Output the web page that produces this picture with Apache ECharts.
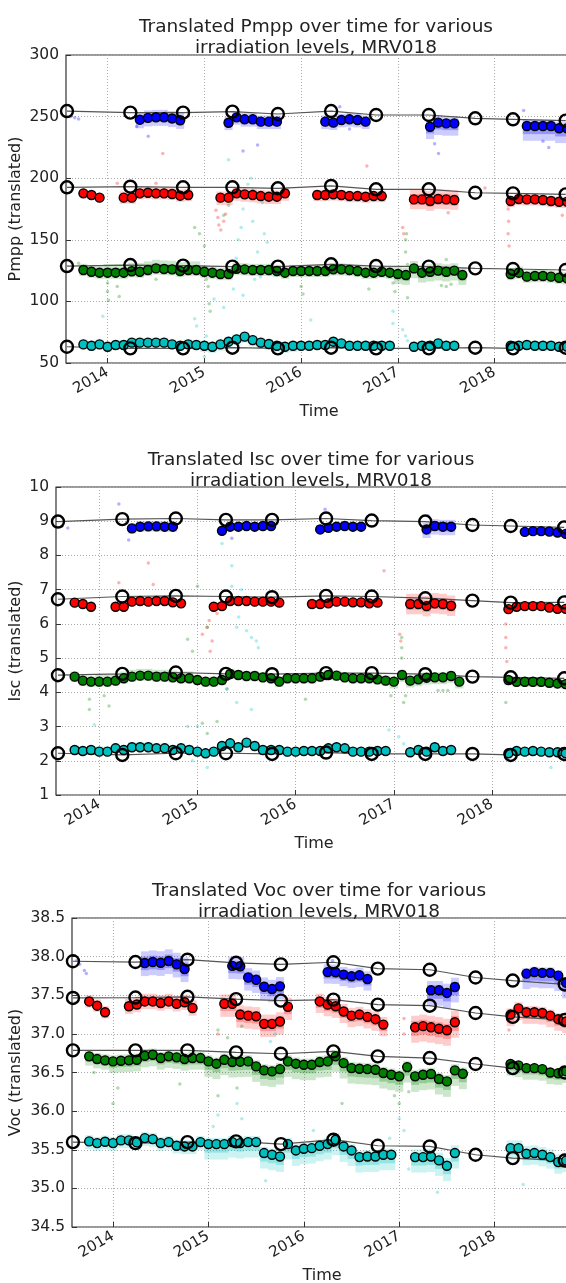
<!DOCTYPE html>
<html><head><meta charset="utf-8">
<script src="https://cdn.jsdelivr.net/npm/echarts@6/dist/echarts.min.js"></script>
<style>html,body{margin:0;padding:0;background:#fff}#c{width:566px;height:1283px}</style>
</head><body><div id="c"></div>
<script>
// ---------------- DATA ----------------
const yearTicks = [2014, 2015, 2016, 2017, 2018];
const refDates = [2013.58, 2014.235, 2014.78, 2015.29, 2015.76, 2016.31, 2016.775, 2017.32, 2017.80, 2018.19, 2018.735];

const blueMonths = ['2014-05','2014-06','2014-07','2014-08','2014-09','2014-10',
  '2015-04','2015-05','2015-06','2015-07','2015-08','2015-09','2015-10',
  '2016-04','2016-05','2016-06','2016-07','2016-08','2016-09',
  '2017-05','2017-06','2017-07','2017-08',
  '2018-05','2018-06','2018-07','2018-08','2018-09','2018-10'];
const redMonths = ['2013-10','2013-11','2013-12',
  '2014-03','2014-04','2014-05','2014-06','2014-07','2014-08','2014-09','2014-10','2014-11',
  '2015-03','2015-04','2015-05','2015-06','2015-07','2015-08','2015-09','2015-10','2015-11',
  '2016-03','2016-04','2016-05','2016-06','2016-07','2016-08','2016-09','2016-10','2016-11',
  '2017-03','2017-04','2017-05','2017-06','2017-07','2017-08',
  '2018-03','2018-04','2018-05','2018-06','2018-07','2018-08','2018-09','2018-10'];
const greenMonths = ['2013-10','2013-11','2013-12',
  '2014-01','2014-02','2014-03','2014-04','2014-05','2014-06','2014-07','2014-08','2014-09','2014-10','2014-11','2014-12',
  '2015-01','2015-02','2015-03','2015-04','2015-05','2015-06','2015-07','2015-08','2015-09','2015-10','2015-11','2015-12',
  '2016-01','2016-02','2016-03','2016-04','2016-05','2016-06','2016-07','2016-08','2016-09','2016-10','2016-11','2016-12',
  '2017-01','2017-02','2017-03','2017-04','2017-05','2017-06','2017-07','2017-08','2017-09',
  '2018-03','2018-04','2018-05','2018-06','2018-07','2018-08','2018-09','2018-10'];
const cyanMonths = ['2013-10','2013-11','2013-12',
  '2014-01','2014-02','2014-03','2014-04','2014-05','2014-06','2014-07','2014-08','2014-09','2014-10','2014-11','2014-12',
  '2015-01','2015-02','2015-03','2015-04','2015-05','2015-06','2015-07','2015-08','2015-09','2015-10','2015-11','2015-12',
  '2016-01','2016-02','2016-03','2016-04','2016-05','2016-06','2016-07','2016-08','2016-09','2016-10','2016-11','2016-12',
  '2017-03','2017-04','2017-05','2017-06','2017-07','2017-08',
  '2018-03','2018-04','2018-05','2018-06','2018-07','2018-08','2018-09','2018-10'];

// Pmpp
const pmppBlue = [247.5,249,249.5,249.5,248.5,247, 245,249.4,247.8,247.8,245.9,245.9,245.9,
  245.9,245.1,247.2,247.8,247.2,245.9, 241.8,245.1,244.5,244.5, 242.4,242.4,242.4,242.4,240.5,240.5];
const pmppRed = [187.7,186.4,184.2, 184.2,184.2,187.7,188.2,187.7,187.7,187.2,185.8,186.4,
  184.2,184.2,187.7,186.9,186.4,185.5,185.0,185.0,187.7, 186.4,186.4,186.9,186.4,185.5,185.5,185.0,185.5,185.5,
  182.8,182.8,181.5,183.1,182.8,182.3, 181.5,183.1,182.8,182.8,182.3,181.5,180.9,180.9];
const pmppGreen = [125.5,124.1,123.3,
  123.3,123.3,123.3,124.5,124.1,125.5,126.8,126.3,126.0,124.7,125.5,125.5,
  124.1,123.3,122.2,122.2,126.5,126.0,125.5,125.5,125.5,124.7,123.3,124.7,
  124.7,124.7,124.7,124.7,126.0,126.0,125.5,124.7,123.3,123.3,124.1,123.3,
  122.2,121.4,126.8,123.3,124.1,125.0,124.1,125.0,121.4,
  122.2,123.3,120.1,120.6,120.6,120.1,119.2,118.7];
const pmppCyan = [65.1,64.0,65.1,
  63.2,64.6,64.6,66.5,66.5,66.5,66.5,66.5,65.1,64.0,65.1,64.6,
  64.0,63.2,65.1,67.3,69.2,71.4,68.6,66.5,65.4,64.0,63.2,64.0,
  64.0,64.0,64.6,64.6,67.3,65.9,64.0,64.0,64.0,64.0,64.0,64.0,
  63.2,64.0,64.0,65.9,64.0,64.0,
  64.0,64.0,64.6,64.0,64.0,64.0,63.2,63.2];
const pmppBlueRef = [254.5,253.2,253.2,254.0,252.1,254.5,251.3,251.3,248.6,247.8,246.7];
const pmppRedRef = [192.6,193.1,192.6,192.6,191.8,193.7,191.0,191.0,188.2,187.7,186.9];
const pmppGreenRef = [128.7,129.5,129.0,128.2,128.2,130.1,128.7,128.2,126.8,126.3,125.5];
const pmppCyanRef = [63.2,61.9,61.9,62.4,61.9,62.4,61.9,61.9,62.4,61.9,62.4];
const pmppBlueSpread = [[2014,7,6],[2015,6,5],[2016,6,5],[2017,10,6],[2018,12,5]];
const pmppRedSpread = [[2013,3,3],[2014,5,5],[2015,6,5],[2016,5,4],[2017,8,8],[2018,5,4]];
const pmppGreenSpread = [[2013,5,5],[2014,5,7],[2015,5,5],[2016,5,5],[2017,8,6],[2018,5,5]];
const pmppCyanSpread = [[2013,4,4],[2014,4,4],[2015,5,4],[2016,4,4],[2017,4,4],[2018,4,4]];
const pmppOutBlue = [[2013.62,250],[2013.66,249],[2013.7,248],[2014.3,242],[2014.42,234],[2015.4,222],[2015.55,227],[2016.4,258],[2017.38,228],[2017.42,220],[2018.5,230],[2018.56,225],[2018.3,255],[2016.5,240],[2014.6,253]];
const pmppOutRed = [[2014.57,220],[2016.68,210],[2015.12,174],[2015.14,168],[2015.15,162],[2015.17,158],[2015.2,165],[2015.22,171],[2018.14,175],[2018.145,165],[2018.14,155],[2018.15,145],[2018.15,185],[2017.05,160],[2017.06,155],[2018.7,170],[2014.1,196],[2017.52,172],[2017.9,192],[2014.5,196]];
const pmppOutGreen = [[2013.7,131],[2014.0,115],[2014.0,108],[2014.01,101],[2014.1,112],[2014.12,104],[2014.9,160],[2014.95,155],[2015.0,145],[2015.02,118],[2015.04,112],[2015.05,98],[2015.06,92],[2015.2,170],[2015.25,178],[2015.5,190],[2016.0,112],[2016.02,106],[2016.7,110],[2016.95,115],[2016.97,108],[2017.08,140],[2017.08,150],[2017.09,155],[2017.1,130],[2017.1,118],[2017.1,103],[2017.5,134],[2017.45,113],[2017.5,112],[2017.55,114],[2014.5,118]];
const pmppOutCyan = [[2013.95,88],[2014.9,86],[2014.92,80],[2015.0,55],[2015.02,72],[2015.1,102],[2015.2,95],[2015.3,110],[2015.33,135],[2015.35,150],[2015.38,160],[2015.4,175],[2015.42,185],[2015.45,195],[2015.48,200],[2015.5,165],[2015.55,140],[2015.58,120],[2015.6,180],[2015.62,155],[2015.65,148],[2015.7,130],[2015.4,105],[2015.52,118],[2016.1,85],[2016.95,82],[2016.95,92],[2017.05,77],[2017.08,72],[2017.1,68],[2015.25,215]];

// Isc
const iscBlue = [8.79,8.84,8.85,8.85,8.84,8.84, 8.72,8.84,8.84,8.86,8.84,8.86,8.86,
  8.76,8.81,8.84,8.86,8.84,8.84, 8.76,8.86,8.84,8.84, 8.69,8.71,8.71,8.70,8.67,8.63];
const iscRed = [6.62,6.58,6.50, 6.50,6.50,6.65,6.67,6.65,6.67,6.67,6.63,6.60,
  6.50,6.52,6.67,6.67,6.67,6.65,6.65,6.65,6.62, 6.58,6.58,6.60,6.65,6.65,6.63,6.63,6.60,6.62,
  6.58,6.58,6.52,6.60,6.58,6.53, 6.43,6.50,6.52,6.52,6.52,6.48,6.44,6.44];
const iscGreen = [4.458,4.341,4.312,
  4.312,4.312,4.341,4.41,4.458,4.487,4.487,4.458,4.458,4.438,4.41,4.41,
  4.36,4.312,4.312,4.36,4.536,4.507,4.477,4.477,4.438,4.41,4.312,4.41,
  4.41,4.41,4.41,4.458,4.507,4.487,4.438,4.41,4.41,4.41,4.38,4.341,
  4.312,4.507,4.341,4.38,4.428,4.438,4.438,4.477,4.312,
  4.36,4.31,4.31,4.31,4.31,4.28,4.26,4.24];
const iscCyan = [2.316,2.287,2.316,
  2.267,2.267,2.364,2.316,2.394,2.394,2.394,2.364,2.364,2.316,2.364,2.316,
  2.267,2.218,2.267,2.433,2.51,2.394,2.53,2.433,2.316,2.316,2.316,2.267,
  2.267,2.287,2.287,2.287,2.364,2.394,2.364,2.267,2.267,2.267,2.287,2.287,
  2.248,2.316,2.267,2.394,2.287,2.316,
  2.218,2.287,2.267,2.287,2.267,2.248,2.248,2.218];
const iscBlueRef = [8.99,9.06,9.08,9.04,9.04,9.08,9.02,8.99,8.89,8.86,8.82];
const iscRedRef = [6.72,6.80,6.82,6.80,6.78,6.82,6.80,6.75,6.68,6.62,6.63];
const iscGreenRef = [4.50,4.54,4.58,4.54,4.53,4.56,4.56,4.53,4.46,4.44,4.41];
const iscCyanRef = [2.22,2.17,2.22,2.22,2.20,2.24,2.20,2.20,2.20,2.17,2.20];
const iscBlueSpread = [[2014,0.15,0.15],[2015,0.12,0.12],[2016,0.12,0.12],[2017,0.25,0.2],[2018,0.12,0.1]];
const iscRedSpread = [[2013,0.1,0.1],[2014,0.12,0.12],[2015,0.12,0.12],[2016,0.12,0.1],[2017,0.3,0.3],[2018,0.12,0.1]];
const iscGreenSpread = [[2013,0.15,0.15],[2014,0.15,0.2],[2015,0.15,0.15],[2016,0.15,0.15],[2017,0.2,0.15],[2018,0.15,0.12]];
const iscCyanSpread = [[2013,0.12,0.12],[2014,0.12,0.15],[2015,0.15,0.12],[2016,0.12,0.12],[2017,0.12,0.12],[2018,0.12,0.1]];
const iscOutBlue = [[2013.62,8.85],[2013.68,8.8],[2014.3,8.45],[2014.2,9.5],[2016.3,9.35],[2015.35,8.5],[2017.35,9.15]];
const iscOutRed = [[2014.5,7.78],[2016.9,7.55],[2014.2,7.2],[2014.55,7.15],[2015.05,5.7],[2015.1,5.9],[2015.12,6.1],[2015.13,5.2],[2015.15,5.5],[2018.14,6.0],[2018.14,5.6],[2018.14,5.3],[2018.15,4.9],[2017.06,5.7],[2017.07,5.5],[2015.2,6.3]];
const iscOutGreen = [[2015.0,7.1],[2015.1,5.9],[2014.9,5.55],[2014.95,5.2],[2013.9,3.8],[2013.9,3.5],[2014.05,3.9],[2014.1,3.6],[2015.05,3.1],[2015.1,2.8],[2015.2,3.15],[2016.1,3.8],[2017.08,5.6],[2017.08,5.3],[2017.08,5.0],[2017.1,3.7],[2017.12,3.9],[2016.97,3.9],[2017.45,4.05],[2017.5,4.05],[2017.55,4.05],[2018.14,3.7],[2015.3,4.1]];
const iscOutCyan = [[2015.25,8.35],[2015.35,7.7],[2015.35,7.1],[2015.45,7.0],[2015.42,6.2],[2015.5,5.8],[2015.55,5.6],[2015.4,5.9],[2015.6,5.5],[2015.62,5.3],[2015.3,4.1],[2015.4,3.7],[2015.55,3.5],[2015.0,3.0],[2014.9,3.0],[2013.95,3.05],[2014.95,2.0],[2015.1,1.8],[2016.95,2.9],[2017.05,2.7],[2017.1,2.5],[2018.6,1.8]];

// Voc
const vocBlue = [37.918,37.93,37.92,37.944,37.90,37.84,
  37.88,37.875,37.73,37.70,37.61,37.58,37.615,
  37.80,37.797,37.767,37.745,37.758,37.71,
  37.564,37.564,37.53,37.607,
  37.78,37.80,37.79,37.79,37.754,37.66];
const vocRed = [37.42,37.365,37.28,
  37.357,37.38,37.42,37.42,37.40,37.42,37.39,37.41,37.335,
  37.39,37.39,37.25,37.236,37.227,37.13,37.13,37.16,37.35,
  37.42,37.378,37.357,37.29,37.236,37.25,37.22,37.19,37.12,
  37.085,37.10,37.085,37.067,37.046,37.15,
  37.25,37.33,37.28,37.28,37.27,37.236,37.19,37.16];
const vocGreen = [36.709,36.674,36.657,
  36.644,36.652,36.657,36.665,36.717,36.73,36.687,36.709,36.696,36.674,36.687,36.687,
  36.644,36.614,36.665,36.635,36.64,36.644,36.579,36.527,36.514,36.544,36.644,36.614,
  36.60,36.60,36.635,36.644,36.709,36.622,36.557,36.549,36.544,36.536,36.493,36.471,
  36.45,36.57,36.45,36.471,36.48,36.415,36.385,36.527,36.484,
  36.61,36.592,36.557,36.557,36.544,36.50,36.49,36.514];
const vocCyan = [35.608,35.586,35.604,
  35.586,35.621,35.621,35.595,35.651,35.638,35.586,35.599,35.552,35.543,35.543,35.599,
  35.573,35.573,35.573,35.599,35.586,35.599,35.599,35.457,35.435,35.413,35.573,35.491,
  35.513,35.521,35.552,35.573,35.63,35.543,35.491,35.405,35.413,35.413,35.435,35.435,
  35.405,35.405,35.413,35.362,35.293,35.457,
  35.521,35.521,35.448,35.457,35.435,35.405,35.34,35.36];
const vocBlueRef = [37.94,37.93,37.96,37.92,37.90,37.927,37.845,37.83,37.73,37.69,37.64];
const vocRedRef = [37.465,37.47,37.48,37.45,37.43,37.443,37.378,37.365,37.27,37.22,37.18];
const vocGreenRef = [36.786,36.786,36.786,36.76,36.743,36.773,36.709,36.687,36.61,36.557,36.50];
const vocCyanRef = [35.599,35.586,35.599,35.608,35.573,35.63,35.552,35.543,35.435,35.392,35.36];
const vocBlueSpread = [[2014,0.17,0.15],[2015,0.17,0.12],[2016,0.15,0.1],[2017,0.2,0.12],[2018,0.2,0.07]];
const vocRedSpread = [[2013,0.08,0.08],[2014,0.1,0.1],[2015,0.17,0.12],[2016,0.15,0.1],[2017,0.2,0.15],[2018,0.15,0.08]];
const vocGreenSpread = [[2013,0.12,0.08],[2014,0.15,0.08],[2015,0.2,0.08],[2016,0.2,0.08],[2017,0.2,0.08],[2018,0.15,0.05]];
const vocCyanSpread = [[2013,0.1,0.08],[2014,0.1,0.08],[2015,0.2,0.08],[2016,0.2,0.08],[2017,0.2,0.1],[2018,0.15,0.1]];
const vocOutBlue = [[2013.62,37.95],[2013.65,37.9],[2013.7,37.82],[2013.72,37.78],[2016.3,37.95]];
const vocOutRed = [[2015.1,37.0],[2017.05,37.0],[2017.05,37.2],[2018.15,37.05],[2013.6,37.4]];
const vocOutGreen = [[2014.0,36.1],[2014.05,36.3],[2015.1,36.2],[2015.3,36.3],[2015.1,37.05],[2015.2,36.95],[2015.35,37.1],[2016.4,36.1],[2017.0,36.1],[2017.1,36.25],[2016.95,36.2],[2014.7,36.35],[2013.8,36.5]];
const vocOutCyan = [[2015.05,35.8],[2015.1,35.95],[2015.3,36.1],[2015.35,35.9],[2015.65,36.9],[2015.7,37.0],[2016.1,35.75],[2017.0,35.9],[2017.05,35.75],[2016.9,35.65],[2017.1,35.25],[2017.4,34.95],[2015.6,35.1],[2018.3,35.05]];

// ---------------- BUILD ----------------
const FONT = 'DejaVu Sans';
const TXT = '#222';
const COLORS = {blue: '#0000ff', red: '#ff0000', green: '#008000', cyan: '#00bfbf'};
const MONTHS = {blue: blueMonths, red: redMonths, green: greenMonths, cyan: cyanMonths};
const toX = m => { const p = m.split('-'); return +p[0] + (+p[1] - 1) / 12; };

const panels = [
  {title: 'Translated Pmpp over time for various\nirradiation levels, MRV018', yName: 'Pmpp (translated)',
   yMin: 50, yMax: 300, yStep: 50, digits: 0, left: 66, top: 55, width: 506, height: 308,
   xMin: 2013.570, xMax: 2018.800, titleX: 315, titleTop: 12, yGap: 42,
   vals: {blue: pmppBlue, red: pmppRed, green: pmppGreen, cyan: pmppCyan},
   refs: {blue: pmppBlueRef, red: pmppRedRef, green: pmppGreenRef, cyan: pmppCyanRef},
   spreads: {blue: pmppBlueSpread, red: pmppRedSpread, green: pmppGreenSpread, cyan: pmppCyanSpread},
   outs: {blue: pmppOutBlue, red: pmppOutRed, green: pmppOutGreen, cyan: pmppOutCyan}},
  {title: 'Translated Isc over time for various\nirradiation levels, MRV018', yName: 'Isc (translated)',
   yMin: 1, yMax: 10, yStep: 1, digits: 0, left: 56, top: 487, width: 516, height: 308,
   xMin: 2013.560, xMax: 2018.814, titleX: 310, titleTop: 445, yGap: 32,
   vals: {blue: iscBlue, red: iscRed, green: iscGreen, cyan: iscCyan},
   refs: {blue: iscBlueRef, red: iscRedRef, green: iscGreenRef, cyan: iscCyanRef},
   spreads: {blue: iscBlueSpread, red: iscRedSpread, green: iscGreenSpread, cyan: iscCyanSpread},
   outs: {blue: iscOutBlue, red: iscOutRed, green: iscOutGreen, cyan: iscOutCyan}},
  {title: 'Translated Voc over time for various\nirradiation levels, MRV018', yName: 'Voc (translated)',
   yMin: 34.5, yMax: 38.5, yStep: 0.5, digits: 1, left: 72, top: 918, width: 500, height: 309,
   xMin: 2013.570, xMax: 2018.811, titleX: 318, titleTop: 876, yGap: 48,
   vals: {blue: vocBlue, red: vocRed, green: vocGreen, cyan: vocCyan},
   refs: {blue: vocBlueRef, red: vocRedRef, green: vocGreenRef, cyan: vocCyanRef},
   spreads: {blue: vocBlueSpread, red: vocRedSpread, green: vocGreenSpread, cyan: vocCyanSpread},
   outs: {blue: vocOutBlue, red: vocOutRed, green: vocOutGreen, cyan: vocOutCyan}}
];

const option = {animation: false, backgroundColor: '#fff', title: [], grid: [], xAxis: [], yAxis: [], series: []};
const colorKeys = ['blue', 'red', 'green', 'cyan'];

panels.forEach((p, i) => {
  option.title.push({text: p.title, left: p.titleX - 4, top: p.titleTop, textAlign: 'center',
    textStyle: {fontFamily: FONT, fontSize: 18.5, fontWeight: 'normal', color: TXT, lineHeight: 21}});
  option.grid.push({left: p.left, top: p.top, width: p.width, height: p.height, show: true,
    outerBoundsMode: 'none', containLabel: false,
    borderColor: '#333', borderWidth: 1.2, backgroundColor: 'transparent'});
  option.xAxis.push({type: 'value', gridIndex: i, min: p.xMin, max: p.xMax,
    name: 'Time', nameLocation: 'middle', nameGap: 41, nameMoveOverlap: false,
    nameTextStyle: {fontFamily: FONT, fontSize: 16, color: TXT},
    axisLine: {show: false},
    axisTick: {show: true, inside: true, length: 5, customValues: yearTicks, lineStyle: {color: '#333'}},
    axisLabel: {customValues: yearTicks, rotate: 30, margin: 8, fontFamily: FONT, fontSize: 15, color: TXT,
      formatter: v => String(Math.round(v))},
    splitLine: {show: true, lineStyle: {color: '#aaa', type: [1, 2], width: 1}}});
  option.yAxis.push({type: 'value', gridIndex: i, min: p.yMin, max: p.yMax, interval: p.yStep,
    name: p.yName, nameLocation: 'middle', nameGap: p.yGap, nameMoveOverlap: false,
    nameTextStyle: {fontFamily: FONT, fontSize: 16, color: TXT},
    axisLine: {show: false},
    axisTick: {show: true, inside: true, length: 5, lineStyle: {color: '#333'}},
    axisLabel: {margin: 7, fontFamily: FONT, fontSize: 15.5, color: TXT,
      formatter: v => v.toFixed(p.digits)},
    splitLine: {show: true, lineStyle: {color: '#aaa', type: [1, 2], width: 1}}});

  colorKeys.forEach(ck => {
    const col = COLORS[ck];
    const months = MONTHS[ck];
    const vals = p.vals[ck];
    const spreadByYear = {};
    p.spreads[ck].forEach(s => { spreadByYear[s[0]] = s; });
    const bandData = months.map((m, k) => {
      const s = spreadByYear[+m.slice(0, 4)];
      return [toX(m), vals[k], s[1], s[2]];
    });
    // faint cloud of individual measurements
    option.series.push({type: 'custom', xAxisIndex: i, yAxisIndex: i, clip: true, z: 1, silent: true,
      data: bandData,
      renderItem: (params, api) => {
        const x = api.value(0), v = api.value(1), d = api.value(2), u = api.value(3);
        const a = api.coord([x - 1 / 24, v + u]);
        const b = api.coord([x + 1 / 24, v - d]);
        const a2 = api.coord([x - 1 / 24, v + u * 0.55]);
        const b2 = api.coord([x + 1 / 24, v - d * 0.55]);
        return {type: 'group', children: [
          {type: 'rect', shape: {x: a[0], y: a[1], width: b[0] - a[0], height: b[1] - a[1]}, style: {fill: col, opacity: 0.2}},
          {type: 'rect', shape: {x: a2[0], y: a2[1], width: b2[0] - a2[0], height: b2[1] - a2[1]}, style: {fill: col, opacity: 0.27}}
        ]};
      }});
    option.series.push({type: 'scatter', xAxisIndex: i, yAxisIndex: i, z: 2, silent: true,
      data: p.outs[ck], symbolSize: 3.5, itemStyle: {color: col, opacity: 0.3}});
  });
  colorKeys.forEach(ck => {
    option.series.push({type: 'line', xAxisIndex: i, yAxisIndex: i, z: 3, silent: true, symbol: 'none',
      data: refDates.map((d, k) => [d, p.refs[ck][k]]),
      lineStyle: {color: '#555', width: 1.2}});
  });
  colorKeys.forEach(ck => {
    const months = MONTHS[ck];
    option.series.push({type: 'scatter', xAxisIndex: i, yAxisIndex: i, z: 4, silent: true,
      data: months.map((m, k) => [toX(m), p.vals[ck][k]]),
      symbol: 'circle', symbolSize: 9,
      itemStyle: {color: COLORS[ck], borderColor: '#000', borderWidth: 1.4, opacity: 1}});
  });
  colorKeys.forEach(ck => {
    option.series.push({type: 'scatter', xAxisIndex: i, yAxisIndex: i, z: 5, silent: true,
      data: refDates.map((d, k) => [d, p.refs[ck][k]]),
      symbol: 'circle', symbolSize: 12,
      itemStyle: {color: 'rgba(0,0,0,0)', borderColor: '#000', borderWidth: 2.4, opacity: 1}});
  });
});

const chart = echarts.init(document.getElementById('c'), null, {renderer: 'canvas'});
chart.setOption(option);
</script>
</body></html>
